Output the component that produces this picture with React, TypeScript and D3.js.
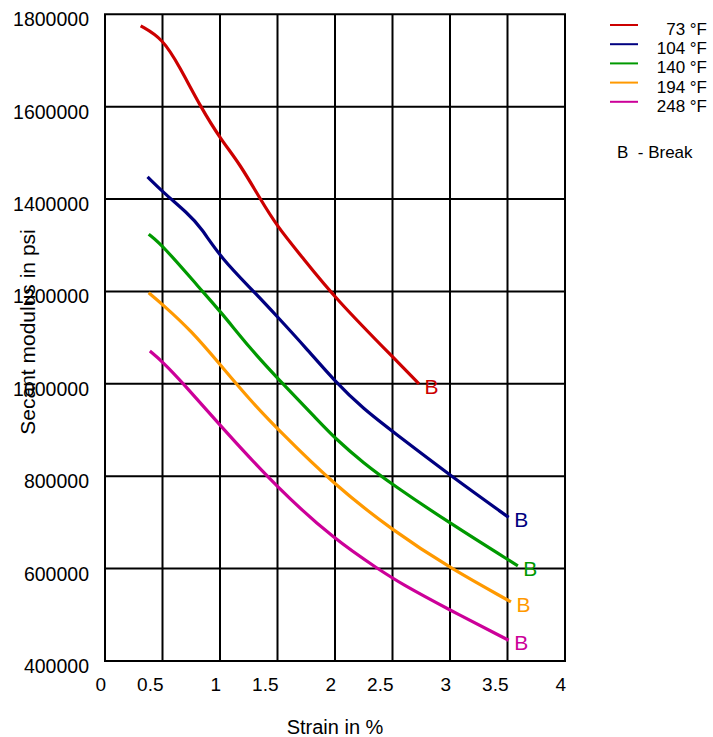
import React from "react";
import * as d3 from "d3";

const xTicks = [0, 0.5, 1, 1.5, 2, 2.5, 3, 3.5, 4];
const yTicks = [400000, 600000, 800000, 1000000, 1200000, 1400000, 1600000, 1800000];

const seriesNames = ["73 °F", "104 °F", "140 °F", "194 °F", "248 °F"];
const seriesColors = ["#cc0000", "#000080", "#009900", "#ff9900", "#cc0099"];

const red73: [number, number][] = [
  [0.31, 1775000], [0.5, 1748000], [0.65, 1686000], [0.83, 1600000], [1.01, 1528000],
  [1.17, 1477000], [1.35, 1400000], [1.5, 1340000], [1.7, 1279000], [2.0, 1185000],
  [2.57, 1041000], [2.73, 1000000],
];
const blue104: [number, number][] = [
  [0.37, 1448000], [0.5, 1416000], [0.72, 1369000], [0.83, 1340000], [1.01, 1272000],
  [1.29, 1201000], [1.5, 1145000], [1.75, 1077000], [2.0, 1005000], [2.25, 945000],
  [2.5, 897000], [3.0, 802000], [3.51, 711000],
];
const green140: [number, number][] = [
  [0.38, 1324000], [0.5, 1300000], [0.83, 1205000], [1.01, 1155000], [1.26, 1077000],
  [1.5, 1012000], [1.84, 924000], [2.0, 882000], [2.25, 828000], [2.5, 782000],
  [3.0, 698000], [3.59, 606000],
];
const orange194: [number, number][] = [
  [0.38, 1197000], [0.5, 1172000], [0.75, 1115000], [1.0, 1042000], [1.25, 968000],
  [1.5, 902000], [2.0, 780000], [2.5, 683000], [3.0, 601000], [3.53, 528000],
];
const magenta248: [number, number][] = [
  [0.39, 1071000], [0.5, 1048000], [0.67, 1004000], [1.0, 910000], [1.5, 774000],
  [2.0, 662000], [2.39, 597000], [2.57, 568000], [3.0, 510000], [3.51, 445000],
];

const allSeries = [red73, blue104, green140, orange194, magenta248];

const W = 713;
const H = 737;
const FONT = "Liberation Sans, Arial, Helvetica, sans-serif";

export default function App() {
  const x = d3.scaleLinear().domain([0, 4]).range([105, 565]);
  const y = d3.scaleLinear().domain([400000, 1800000]).range([661, 14.3]);
  const line = d3
    .line<[number, number]>()
    .x((d) => x(d[0]))
    .y((d) => y(d[1]))
    .curve(d3.curveBasis);

  return (
    <svg
      width={W}
      height={H}
      style={{ position: "absolute", left: 0, top: 0, background: "#fff" }}
      fontFamily={FONT}
    >
      <rect x={0} y={0} width={W} height={H} fill="#fff" />
      {xTicks.map((t) => (
        <line key={"gx" + t} x1={x(t)} x2={x(t)} y1={y(1800000)} y2={y(400000)} stroke="#000" strokeWidth={2} />
      ))}
      {yTicks.map((t) => (
        <line key={"gy" + t} x1={x(0) - 1} x2={x(4) + 1} y1={y(t)} y2={y(t)} stroke="#000" strokeWidth={2} />
      ))}
      {xTicks.map((t) => (
        <text key={"tx" + t} x={x(t) + 1} y={691} textAnchor="end" fontSize={19}>
          {String(t)}
        </text>
      ))}
      {yTicks.map((t) => (
        <text key={"ty" + t} x={89} y={y(t) + 12} textAnchor="end" fontSize={19.5}>
          {String(t)}
        </text>
      ))}
      <text x={335} y={734} textAnchor="middle" fontSize={20}>
        Strain in %
      </text>
      <text transform={`translate(35,${332}) rotate(-90)`} textAnchor="middle" fontSize={21}>
        Secant modulus in psi
      </text>
      {allSeries.map((s, i) => (
        <path key={"s" + i} d={line(s) || ""} fill="none" stroke={seriesColors[i]} strokeWidth={3.2} />
      ))}
      {allSeries.map((s, i) => {
        const last = s[s.length - 1];
        return (
          <text key={"b" + i} x={x(last[0]) + 5.5} y={y(last[1]) + 10} fill={seriesColors[i]} fontSize={21}>
            B
          </text>
        );
      })}
      {seriesNames.map((n, i) => (
        <g key={"l" + i}>
          <line x1={610} x2={638} y1={25 + i * 19.2} y2={25 + i * 19.2} stroke={seriesColors[i]} strokeWidth={2} />
          <text x={707} y={35 + i * 19.2} textAnchor="end" fontSize={17}>
            {n}
          </text>
        </g>
      ))}
      <text x={617} y={158} fontSize={17} xmlSpace="preserve">
        B  - Break
      </text>
    </svg>
  );
}
